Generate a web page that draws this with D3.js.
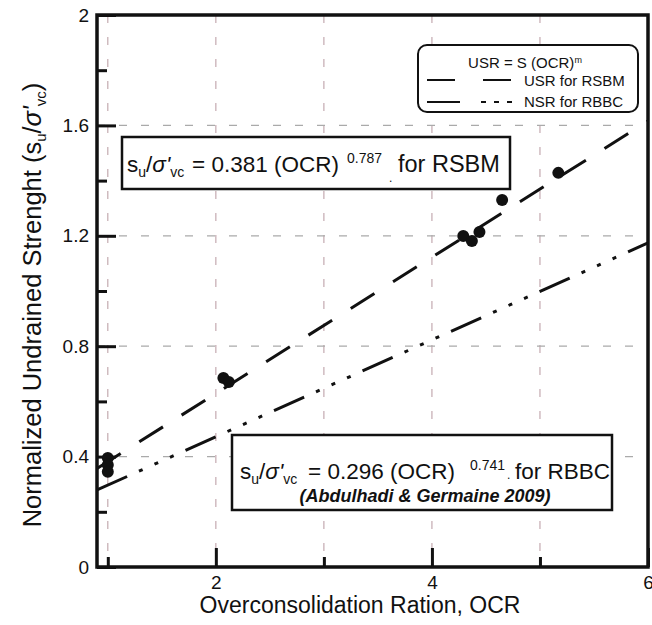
<!DOCTYPE html>
<html>
<head>
<meta charset="utf-8">
<script src="https://cdn.jsdelivr.net/npm/d3@7"></script>
<style>
  body { margin: 0; background: #fff; }
  svg { font-family: "Liberation Sans", Arial, sans-serif; }
</style>
</head>
<body>
<svg id="vis" width="652" height="625"></svg>
<script>
// measured points (OCR, su/sigma'vc)
const ocr = [1.0, 1.0, 1.0, 2.07, 2.12, 4.29, 4.37, 4.44, 4.65, 5.17];
const su  = [0.395, 0.37, 0.345, 0.685, 0.67, 1.199, 1.181, 1.214, 1.33, 1.428];

// fitted lines at the plot edges
const rsbmOcr = [0.9, 6];
const rsbmSu  = [0.357, 1.616];
const rbbcOcr = [0.9, 6];
const rbbcSu  = [0.279, 1.174];

const xMajor = [2, 4, 6];
const xMinor = [1, 3, 5];
const yMajor = [0, 0.4, 0.8, 1.2, 1.6, 2];
const yMinor = [0.2, 0.6, 1.0, 1.4, 1.8];
const xGrid = [1, 2, 3, 4, 5];
const yGrid = [0.4, 0.8, 1.2, 1.6];

let svg = d3.select("#vis");
let pLeft = 97, pRight = 648, pTop = 15, pBottom = 567;

let x = d3.scaleLinear().domain([0.9, 6]).range([pLeft, pRight]);
let y = d3.scaleLinear().domain([0, 2]).range([pBottom, pTop]);

svg.append("defs").append("clipPath").attr("id", "plot")
    .append("rect")
    .attr("x", pLeft).attr("y", pTop)
    .attr("width", pRight - pLeft).attr("height", pBottom - pTop);

// grid
svg.append("g").selectAll("line")
    .data(xGrid).enter().append("line")
    .attr("x1", d => x(d)).attr("x2", d => x(d))
    .attr("y1", pTop).attr("y2", pBottom)
    .attr("stroke", "#c4aab0").attr("stroke-width", 1.2)
    .attr("stroke-dasharray", "8,14");
svg.append("g").selectAll("line")
    .data(yGrid).enter().append("line")
    .attr("x1", pLeft).attr("x2", pRight)
    .attr("y1", d => y(d)).attr("y2", d => y(d))
    .attr("stroke", "#aaa").attr("stroke-width", 1.2)
    .attr("stroke-dasharray", "8,14");

// fit lines
let lineGen = d3.line().x(d => x(d[0])).y(d => y(d[1]));
let lines = svg.append("g").attr("clip-path", "url(#plot)");
lines.append("path")
    .datum(d3.zip(rsbmOcr, rsbmSu))
    .attr("d", lineGen)
    .attr("fill", "none").attr("stroke", "#111").attr("stroke-width", 3)
    .attr("stroke-dasharray", "28,22");
lines.append("path")
    .datum(d3.zip(rbbcOcr, rbbcSu))
    .attr("d", lineGen)
    .attr("fill", "none").attr("stroke", "#111").attr("stroke-width", 3)
    .attr("stroke-dasharray", "33,13,4,13,4,13,4,13");

// points
svg.append("g").selectAll("circle")
    .data(d3.zip(ocr, su)).enter().append("circle")
    .attr("cx", d => x(d[0])).attr("cy", d => y(d[1]))
    .attr("r", 6).attr("fill", "#111");

// axes (ticks point inward)
function styleAxis(g) {
    g.select(".domain").remove();
    g.selectAll(".tick line").attr("stroke", "#111").attr("stroke-width", 3);
    g.selectAll(".tick text").attr("fill", "#111").style("font-size", "19px")
        .style("font-family", "'Liberation Sans', Arial, sans-serif");
}
svg.append("g").attr("transform", `translate(0,${pBottom})`)
    .call(d3.axisBottom(x).tickValues(xMajor).tickSize(-19).tickPadding(9).tickFormat(d3.format("d")))
    .call(styleAxis);
svg.append("g").attr("transform", `translate(0,${pBottom})`)
    .call(d3.axisBottom(x).tickValues(xMinor).tickSize(-10).tickFormat(""))
    .call(styleAxis);
svg.append("g").attr("transform", `translate(${pLeft},0)`)
    .call(d3.axisLeft(y).tickValues(yMajor).tickSize(-19).tickPadding(8).tickFormat(d => d))
    .call(styleAxis);
svg.append("g").attr("transform", `translate(${pLeft},0)`)
    .call(d3.axisLeft(y).tickValues(yMinor).tickSize(-10).tickFormat(""))
    .call(styleAxis);

// frame
svg.append("rect")
    .attr("x", pLeft).attr("y", pTop)
    .attr("width", pRight - pLeft).attr("height", pBottom - pTop)
    .attr("fill", "none").attr("stroke", "#111").attr("stroke-width", 3.5);

// equation boxes
function eqText(g, p) {
    let t = g.append("text").attr("x", p.x).attr("y", p.y)
        .attr("fill", "#111").style("font-size", p.size + "px");
    t.append("tspan").text("s");
    t.append("tspan").attr("dy", 5).style("font-size", "14px").text("u");
    t.append("tspan").attr("dy", -5).text("/");
    t.append("tspan").style("font-style", "italic").text("σ'");
    t.append("tspan").attr("dy", 5).style("font-size", "14px").text("vc");
    t.append("tspan").attr("dy", -5).attr("x", p.eqX).text("= " + p.coef + " (OCR)");
    t.append("tspan").attr("dy", -9).attr("x", p.supX).style("font-size", "14px").text(p.expo);
    t.append("tspan").attr("dy", 9 + p.dotDy).attr("x", p.dotX).style("font-size", "12px").text(".");
    t.append("tspan").attr("dy", -p.dotDy).attr("x", p.tailX)
        .style("font-size", p.tailSize + "px").text(p.tail);
    return t;
}

let box1 = svg.append("g");
box1.append("rect").attr("x", 122).attr("y", 137).attr("width", 388).attr("height", 52)
    .attr("fill", "#fff").attr("stroke", "#111").attr("stroke-width", 2.5);
eqText(box1, {x: 127, y: 172, size: 22.5, eqX: 192, coef: "0.381", supX: 347, expo: "0.787",
    dotX: 389, dotDy: 10, tailX: 398, tail: "for RSBM", tailSize: 23.5});

let box2 = svg.append("g");
box2.append("rect").attr("x", 232).attr("y", 435).attr("width", 380).attr("height", 75)
    .attr("fill", "#fff").attr("stroke", "#111").attr("stroke-width", 2.5);
eqText(box2, {x: 240, y: 479, size: 22.5, eqX: 308, coef: "0.296", supX: 470, expo: "0.741",
    dotX: 507, dotDy: 0, tailX: 515, tail: "for RBBC", tailSize: 22.5});
box2.append("text").attr("x", 425).attr("y", 502).attr("text-anchor", "middle")
    .attr("fill", "#111").style("font-size", "18px").style("font-style", "italic")
    .style("font-weight", "bold").text("(Abdulhadi & Germaine 2009)");

// legend
let leg = svg.append("g");
leg.append("rect").attr("x", 418).attr("y", 45).attr("width", 220).attr("height", 67)
    .attr("rx", 9).attr("fill", "#fff").attr("stroke", "#111").attr("stroke-width", 2);
let lt = leg.append("text").attr("x", 525).attr("y", 68).attr("text-anchor", "middle")
    .attr("fill", "#111").style("font-size", "15px");
lt.append("tspan").text("USR = S (OCR)");
lt.append("tspan").attr("dy", -5).style("font-size", "9px").text("m");
leg.append("line").attr("x1", 427).attr("x2", 513).attr("y1", 80).attr("y2", 80)
    .attr("stroke", "#111").attr("stroke-width", 2).attr("stroke-dasharray", "28,28");
leg.append("text").attr("x", 524).attr("y", 86).attr("fill", "#111")
    .style("font-size", "15px").text("USR for RSBM");
leg.append("line").attr("x1", 427).attr("x2", 516).attr("y1", 102).attr("y2", 102)
    .attr("stroke", "#111").attr("stroke-width", 2).attr("stroke-dasharray", "33,21,5,8,5,8,5,100");
leg.append("text").attr("x", 524).attr("y", 107).attr("fill", "#111")
    .style("font-size", "15px").text("NSR for RBBC");

// axis titles
svg.append("text").attr("x", 360).attr("y", 613).attr("text-anchor", "middle")
    .attr("fill", "#111").style("font-size", "23px").text("Overconsolidation Ration, OCR");

let yl = svg.append("text").attr("transform", "translate(41,305) rotate(-90)")
    .attr("text-anchor", "middle").attr("fill", "#111").style("font-size", "25.5px");
yl.append("tspan").text("Normalized Undrained Strenght (s");
yl.append("tspan").attr("dy", 5).style("font-size", "15px").text("u");
yl.append("tspan").attr("dy", -5).text("/");
yl.append("tspan").style("font-style", "italic").text("σ'");
yl.append("tspan").attr("dy", 5).style("font-size", "15px").text("vc");
yl.append("tspan").attr("dy", -5).text(")");
</script>
</body>
</html>
